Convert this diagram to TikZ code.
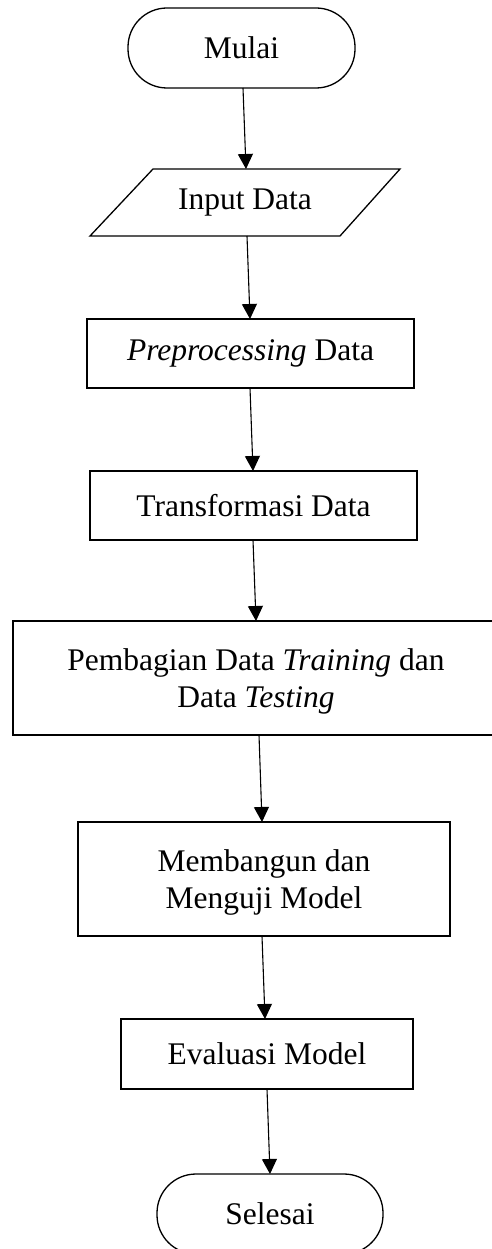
\documentclass[tikz,border=0pt]{standalone}
\usepackage{fontspec}
\setmainfont{Liberation Serif}
\usetikzlibrary{arrows.meta,calc}
\tikzset{
  box/.style={draw=black, line width=1.3pt, rectangle, inner sep=0pt, outer sep=0pt, align=center, fill=white},
  term/.style={box, rounded corners=39pt},
  flow/.style={line width=1.1pt, -{Triangle[length=15pt,width=15pt]}},
}
\begin{document}
\begin{tikzpicture}[x=1pt,y=-1pt, font=\fontsize{31.5}{37}\selectfont]
\useasboundingbox (0,0) rectangle (491,1249);
\node[term, minimum width=227pt, minimum height=80pt] (start) at (241.5,48) {Mulai};
\draw[line width=1.3pt, line join=miter] (153,169) -- (400,169) -- (340,236) -- (90,236) -- cycle;
\node[inner sep=0pt, outer sep=0pt, minimum width=250pt, minimum height=67pt] (inp) at (245,202.5) {Input Data};
\node[box, minimum width=327pt, minimum height=69pt] (pre) at (250.5,353.5) {\textit{Preprocessing} Data};
\node[box, minimum width=327pt, minimum height=69pt] (trans) at (253.5,505.5) {Transformasi Data};
\node[box, minimum width=486pt, minimum height=114pt] (split) at (256,678) {\rule{0pt}{28pt}Pembagian Data \textit{Training} dan\\Data \textit{Testing}};
\node[box, minimum width=372pt, minimum height=114pt] (build) at (264,879) {\rule{0pt}{29.5pt}Membangun dan\\Menguji Model};
\node[box, minimum width=292pt, minimum height=70pt] (eval) at (267,1054) {Evaluasi Model};
\node[term, minimum width=226pt, minimum height=80pt] (stop) at (270,1214) {Selesai};
\draw[flow] ($(start.south)+(1.5,0)$) -- ($(inp.north)+(1,0)$);
\draw[flow] ($(inp.south)+(2,0)$) -- ($(pre.north)+(-0.5,0)$);
\draw[flow] ($(pre.south)+(-0.5,0)$) -- ($(trans.north)+(-0.5,0)$);
\draw[flow] ($(trans.south)+(-0.5,0)$) -- (split.north);
\draw[flow] ($(split.south)+(3,0)$) -- ($(build.north)+(-2,0)$);
\draw[flow] ($(build.south)+(-2,0)$) -- ($(eval.north)+(-2,0)$);
\draw[flow] (eval.south) -- (stop.north);
\end{tikzpicture}
\end{document}
